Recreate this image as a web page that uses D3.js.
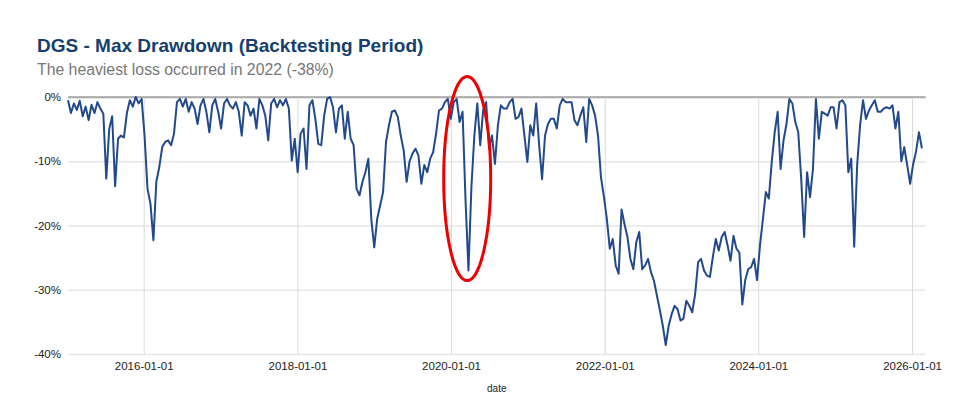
<!DOCTYPE html>
<html>
<head>
<meta charset="utf-8">
<script src="https://cdn.jsdelivr.net/npm/d3@7"></script>
<style>
  body { margin: 0; background: #fff; }
  text { font-family: "Liberation Sans", Arial, Helvetica, sans-serif; }
</style>
</head>
<body>
<svg id="chart" width="960" height="401"></svg>
<script>
// drawdown in %, one reading every 14 days from startDate
const startDate = "2015-01-06";
const stepDays = 14;
const drawdown = [
  -0.5, -2.5, -1.0, -2.0, -0.6, -3.0, -1.5, -3.6, -1.2, -2.5,
  -0.8, -1.8, -2.6, -12.7, -5.0, -3.0, -13.9, -6.5, -6.0, -6.3,
  -2.5, -0.5, -1.5, 0, -1.0, -0.3, -6.0, -14.3, -16.6, -22.3,
  -13.2, -10.9, -7.8, -7.0, -6.75, -7.5, -5.7, -0.8, -0.3, -1.5,
  -0.3, -2.3, -0.8, -1.8, -4.2, -1.3, -0.3, -2.3, -5.5, -1.3,
  -0.3, -2.3, -4.9, -1.0, -0.3, -1.3, -1.8, -0.8, -2.3, -6.0,
  -0.8, -1.3, -2.9, -1.8, -4.9, -0.3, -1.3, -2.9, -6.75, -1.0,
  -0.3, -1.6, -0.5, -1.3, -0.3, -1.8, -9.9, -6.5, -11.7, -5.7,
  -4.9, -11.2, -1.3, -0.5, -3.4, -7.3, -7.5, -2.9, -0.3, 0,
  -1.6, -5.5, -1.8, -1.3, -6.5, -2.3, -6.5, -7.5, -14.3, -15.3,
  -13.2, -11.7, -9.6, -19.0, -23.4, -19.0, -16.9, -14.8, -7.0, -4.4,
  -2.3, -2.1, -3.1, -6.0, -8.3, -13.2, -10.0, -8.8, -8.05, -9.1,
  -13.5, -10.6, -11.7, -9.6, -8.6, -5.7, -2.1, -1.8, -0.8, -0.3,
  -3.4, -0.8, -0.3, -3.9, -2.3, -16.0, -27.0, -14.0, -6.0, -1.0,
  -7.5, -2.0, -0.8, -8.0, -6.0, -10.4, -4.4, -1.3, -1.8, -1.8,
  -0.8, -0.3, -3.4, -3.1, -1.8, -6.0, -10.1, -4.4, -6.0, -1.0,
  -7.5, -12.8, -6.0, -4.2, -3.4, -3.4, -4.9, -1.3, -0.3, -0.8,
  -0.8, -0.8, -3.6, -4.4, -2.9, -1.6, -7.0, -0.3, -1.3, -2.9,
  -6.0, -12.5, -15.5, -19.0, -23.6, -22.1, -26.2, -27.5, -17.5, -19.8,
  -21.8, -25.2, -26.8, -22.6, -21.0, -26.8, -26.2, -25.2, -27.3, -28.6,
  -30.9, -33.2, -35.6, -38.6, -35.6, -33.8, -32.5, -33.0, -34.8, -34.5,
  -31.7, -32.5, -33.5, -30.6, -25.7, -25.2, -27.0, -27.8, -28.0, -24.9,
  -22.1, -23.9, -21.8, -21.0, -23.1, -25.5, -21.6, -23.6, -24.2, -32.3,
  -28.5, -26.8, -26.5, -25.2, -28.5, -23.1, -19.0, -14.8, -15.8, -10.1,
  -5.5, -2.3, -11.2, -6.75, -4.2, -0.3, -1.0, -3.9, -5.5, -12.7,
  -21.8, -11.7, -15.6, -11.2, -0.3, -6.5, -2.3, -2.6, -2.9, -1.6,
  -1.6, -4.9, -0.8, -0.5, -1.3, -11.7, -9.6, -23.3, -10.6, -4.4,
  -0.5, -3.4, -2.1, -1.3, -0.5, -2.3, -2.3, -1.8, -1.6, -1.8,
  -1.3, -4.9, -2.3, -10.0, -7.8, -10.6, -13.5, -10.5, -8.5, -5.5,
  -8.0
];
const yTicks = [0, -10, -20, -30, -40];
const xTicks = ["2016-01-01", "2018-01-01", "2020-01-01", "2022-01-01", "2024-01-01", "2026-01-01"];
const domainEnd = "2026-03-06";
// the 2020 crash that gets circled
const crashDate = "2020-03-18";
const crashMid = -12.7;

const parse = d3.utcParse("%Y-%m-%d");
const fmt = d3.utcFormat("%Y-%m-%d");
const t0 = parse(startDate);
const data = drawdown.map((v, i) => ({ date: d3.utcDay.offset(t0, i * stepDays), value: v }));

const svg = d3.select("#chart");
const plot = { left: 68, right: 925.5, top: 97, bottom: 354 };

const x = d3.scaleUtc()
    .domain([t0, parse(domainEnd)])
    .range([plot.left, plot.right]);
const y = d3.scaleLinear()
    .domain([-40, 0])
    .range([plot.bottom, plot.top]);

// horizontal grid + y labels
const yAxis = svg.append("g")
    .attr("transform", `translate(${plot.left},0)`)
    .call(d3.axisLeft(y)
        .tickValues(yTicks)
        .tickSize(-(plot.right - plot.left))
        .tickPadding(7)
        .tickFormat(d => d + "%"));
yAxis.select(".domain").remove();
yAxis.selectAll(".tick line")
    .attr("stroke", d => d === 0 ? "#a8a8a8" : "#e6e6e6")
    .attr("stroke-width", 1.5);
yAxis.selectAll(".tick text")
    .attr("fill", "#222")
    .style("font-size", "11.5px");

// vertical grid + x labels
const xAxis = svg.append("g")
    .attr("transform", `translate(0,${plot.bottom})`)
    .call(d3.axisBottom(x)
        .tickValues(xTicks.map(parse))
        .tickSize(-(plot.bottom - plot.top))
        .tickPadding(8)
        .tickFormat(fmt));
xAxis.select(".domain").remove();
xAxis.selectAll(".tick line")
    .attr("stroke", "#dadada")
    .attr("stroke-width", 1);
xAxis.selectAll(".tick text")
    .attr("fill", "#222")
    .style("font-size", "11.5px");

// redraw the 0% baseline on top of the vertical grid
svg.append("line")
    .attr("x1", plot.left).attr("x2", plot.right)
    .attr("y1", y(0)).attr("y2", y(0))
    .attr("stroke", "#a8a8a8")
    .attr("stroke-width", 1.5);

const line = d3.line()
    .x(d => x(d.date))
    .y(d => y(d.value));

svg.append("path")
    .datum(data)
    .attr("d", line)
    .attr("fill", "none")
    .attr("stroke", "#22498c")
    .attr("stroke-width", 2)
    .attr("stroke-linejoin", "round");

// annotation
svg.append("ellipse")
    .attr("cx", x(parse(crashDate)))
    .attr("cy", y(crashMid))
    .attr("rx", 23.5)
    .attr("ry", 102)
    .attr("fill", "none")
    .attr("stroke", "#ee0000")
    .attr("stroke-width", 3);

svg.append("text")
    .attr("x", 37)
    .attr("y", 52)
    .attr("fill", "#173f6e")
    .style("font-size", "19px")
    .style("font-weight", "bold")
    .text("DGS - Max Drawdown (Backtesting Period)");

svg.append("text")
    .attr("x", 37)
    .attr("y", 75)
    .attr("fill", "#777")
    .style("font-size", "15.8px")
    .text("The heaviest loss occurred in 2022 (-38%)");

svg.append("text")
    .attr("x", (plot.left + plot.right) / 2)
    .attr("y", 392)
    .attr("text-anchor", "middle")
    .attr("fill", "#222")
    .style("font-size", "10px")
    .text("date");
</script>
</body>
</html>
